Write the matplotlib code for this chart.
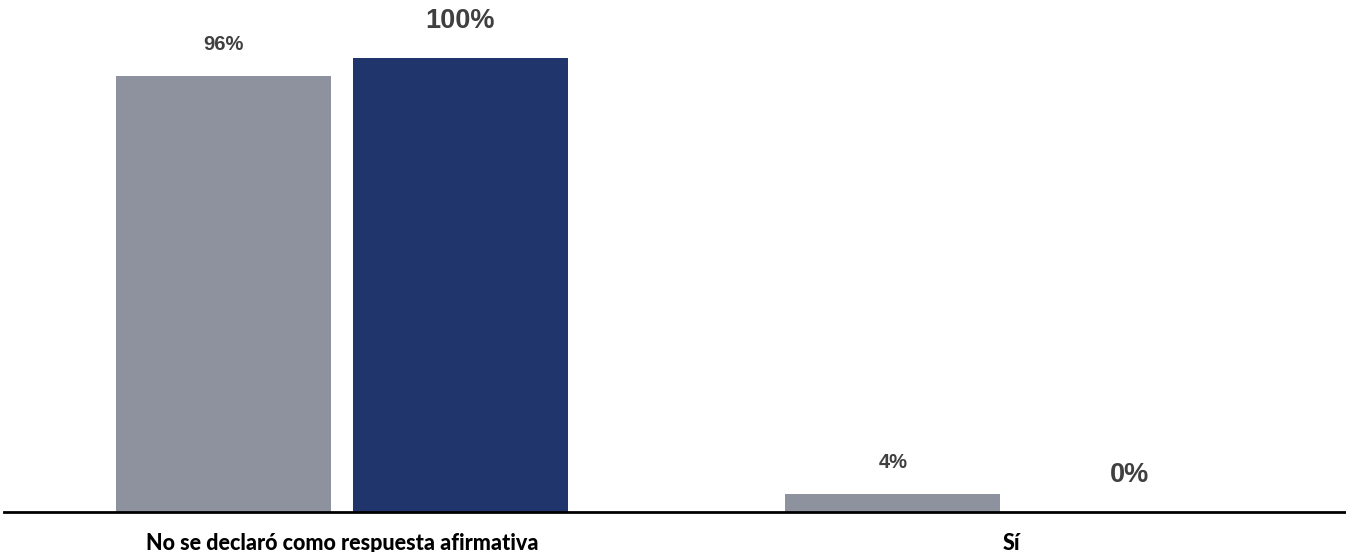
# import Modules ----------------------------------
import numpy as np
import matplotlib.pyplot as plt

# data ---------------------------------------------
categories = ['No se declaró como respuesta afirmativa', 'Sí']
serie_gris = [96, 4]      # first series (gray)
serie_azul = [100, 0]     # second series (navy)
etiquetas_gris = ['96%', '4%']
etiquetas_azul = ['100%', '0%']

# figure -------------------------------------------
fig = plt.figure(figsize=(13.46, 5.52), dpi=100)
ax = fig.add_axes([4/1346, 40/552, 1342/1346, 512/552])

x = np.arange(len(categories))
w = 0.321
off = 0.177
b1 = ax.bar(x - off, serie_gris, w, color='#8e929e')
b2 = ax.bar(x + off, serie_azul, w, color='#20356b')

# value labels
for xi, v, t in zip(x - off, serie_gris, etiquetas_gris):
    ax.annotate(t, (xi, v), xytext=(0, 16), textcoords='offset points',
                ha='center', va='bottom', fontsize=14.5, fontweight='bold',
                color='#404040', family='Liberation Sans')
for xi, v, t in zip(x + off, serie_azul, etiquetas_azul):
    ax.annotate(t, (xi, v), xytext=(0, 17), textcoords='offset points',
                ha='center', va='bottom', fontsize=19.5, fontweight='bold',
                color='#404040', family='Liberation Sans')

ax.set_xlim(-0.505, 1.50)
ax.set_ylim(0, 100 * 512 / 454)

ax.set_xticks(x)
ax.set_xticklabels(categories, fontsize=15.5, fontweight='black', family='Lato', color='black')
ax.tick_params(axis='x', length=0, pad=15)
ax.set_yticks([])
for s in ['top', 'right', 'left']:
    ax.spines[s].set_visible(False)
ax.spines['bottom'].set_linewidth(2)
ax.spines['bottom'].set_color('black')

plt.savefig('out.png', dpi=100)
